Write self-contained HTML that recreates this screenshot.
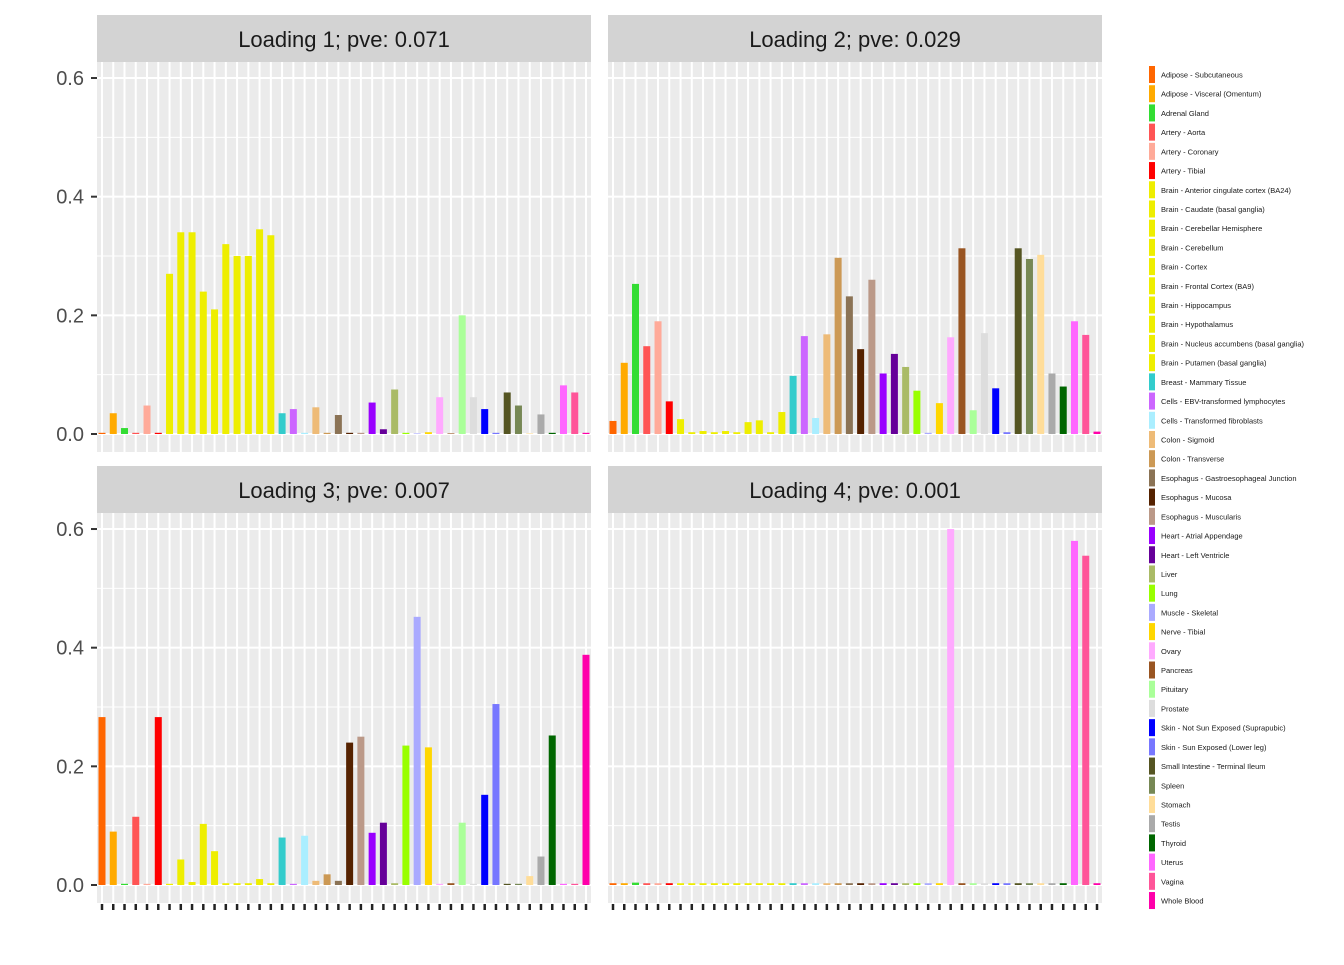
<!DOCTYPE html>
<html><head><meta charset="utf-8"><style>
body{margin:0;background:#fff;width:1344px;height:960px;overflow:hidden;font-family:"Liberation Sans",Arial,sans-serif}
</style></head><body>
<svg id="chart" width="1344" height="960" xmlns="http://www.w3.org/2000/svg" font-family="Liberation Sans, Arial, sans-serif"></svg>
<script>
const tissues=["Adipose - Subcutaneous","Adipose - Visceral (Omentum)","Adrenal Gland","Artery - Aorta","Artery - Coronary","Artery - Tibial","Brain - Anterior cingulate cortex (BA24)","Brain - Caudate (basal ganglia)","Brain - Cerebellar Hemisphere","Brain - Cerebellum","Brain - Cortex","Brain - Frontal Cortex (BA9)","Brain - Hippocampus","Brain - Hypothalamus","Brain - Nucleus accumbens (basal ganglia)","Brain - Putamen (basal ganglia)","Breast - Mammary Tissue","Cells - EBV-transformed lymphocytes","Cells - Transformed fibroblasts","Colon - Sigmoid","Colon - Transverse","Esophagus - Gastroesophageal Junction","Esophagus - Mucosa","Esophagus - Muscularis","Heart - Atrial Appendage","Heart - Left Ventricle","Liver","Lung","Muscle - Skeletal","Nerve - Tibial","Ovary","Pancreas","Pituitary","Prostate","Skin - Not Sun Exposed (Suprapubic)","Skin - Sun Exposed (Lower leg)","Small Intestine - Terminal Ileum","Spleen","Stomach","Testis","Thyroid","Uterus","Vagina","Whole Blood"];
const colors=["#FF6600","#FFAA00","#33DD33","#FF5555","#FFAA99","#FF0000","#EEEE00","#EEEE00","#EEEE00","#EEEE00","#EEEE00","#EEEE00","#EEEE00","#EEEE00","#EEEE00","#EEEE00","#33CCCC","#CC66FF","#AAEEFF","#EEBB77","#CC9955","#8B7355","#552200","#BB9988","#9900FF","#660099","#AABB66","#99FF00","#AAAAFF","#FFD700","#FFAAFF","#995522","#AAFF99","#DDDDDD","#0000FF","#7777FF","#555522","#778855","#FFDD99","#AAAAAA","#006600","#FF66FF","#FF5599","#FF00AA"];
const loading1=[0.002,0.035,0.01,0.002,0.048,0.002,0.27,0.34,0.34,0.24,0.21,0.32,0.30,0.30,0.345,0.335,0.035,0.042,0.002,0.045,0.002,0.032,0.002,0.002,0.053,0.008,0.075,0.002,0.001,0.003,0.062,0.001,0.2,0.062,0.042,0.002,0.07,0.048,0.001,0.033,0.002,0.082,0.07,0.002];
const loading2=[0.022,0.12,0.253,0.148,0.19,0.055,0.025,0.003,0.005,0.003,0.005,0.003,0.02,0.023,0.003,0.037,0.098,0.165,0.027,0.168,0.297,0.232,0.143,0.26,0.102,0.135,0.113,0.073,0.002,0.052,0.163,0.313,0.04,0.17,0.077,0.003,0.313,0.295,0.302,0.102,0.08,0.19,0.167,0.004];
const loading3=[0.283,0.09,0.002,0.115,0.002,0.283,0.002,0.043,0.005,0.103,0.057,0.003,0.003,0.003,0.01,0.003,0.08,0.002,0.083,0.007,0.018,0.007,0.24,0.25,0.088,0.105,0.003,0.235,0.452,0.232,0.002,0.003,0.105,0.002,0.152,0.305,0.002,0.002,0.015,0.048,0.252,0.002,0.002,0.388];
const loading4=[0.003,0.003,0.004,0.003,0.003,0.003,0.003,0.003,0.003,0.003,0.003,0.003,0.003,0.003,0.003,0.003,0.003,0.003,0.003,0.003,0.003,0.003,0.003,0.003,0.003,0.003,0.003,0.003,0.003,0.003,0.6,0.003,0.003,0.003,0.003,0.003,0.003,0.003,0.003,0.003,0.003,0.58,0.555,0.003];
const titles=["Loading 1; pve: 0.071","Loading 2; pve: 0.029","Loading 3; pve: 0.007","Loading 4; pve: 0.001"];
const yTicks=[0,0.2,0.4,0.6];
const yTickLabels=["0.0","0.2","0.4","0.6"];
const series=[loading1,loading2,loading3,loading4];

const svg=document.getElementById('chart');
const NS="http://www.w3.org/2000/svg";
function mk(tag,attrs,parent){const e=document.createElementNS(NS,tag);for(const k in attrs)e.setAttribute(k,attrs[k]);(parent||svg).appendChild(e);return e;}
const panels=[{x:97,y:15},{x:608,y:15},{x:97,y:466},{x:608,y:466}];
const PW=494,SH=47,PH=390;
series.forEach((vals,p)=>{
  const P=panels[p];
  const g=mk('g',{});
  
  
  const top=P.y+SH, bottom=top+PH;
  const y0=P.y+419; // zero line
  const yScale=v=>y0-v*593.3;
  const xScale=i=>P.x+5+i*(PW-10)/(tissues.length-1);
  const strip=mk('rect',{x:P.x,y:P.y,width:PW,height:SH,fill:'#D3D3D3'},g);
  
  
  const t=mk('text',{x:P.x+PW/2,y:P.y+32,'text-anchor':'middle','font-size':'22',fill:'#1a1a1a'},g);
  t.textContent=titles[p];
  
  
  mk('rect',{x:P.x,y:top,width:PW,height:PH,fill:'#EBEBEB'},g);
  [0.1,0.3,0.5].forEach(v=>mk('line',{x1:P.x,x2:P.x+PW,y1:yScale(v),y2:yScale(v),stroke:'#fff','stroke-width':1},g));
  yTicks.forEach(v=>mk('line',{x1:P.x,x2:P.x+PW,y1:yScale(v),y2:yScale(v),stroke:'#fff','stroke-width':2},g));
  tissues.forEach((n,i)=>mk('line',{x1:xScale(i),x2:xScale(i),y1:top,y2:bottom,stroke:'#fff','stroke-width':2},g));
  vals.forEach((v,i)=>{
    const b=mk('rect',{x:xScale(i)-3.5,y:yScale(v),width:7,height:Math.max(0,y0-yScale(v)),fill:colors[i]},g);
    
    
  });
  if(p%2===0){
    yTicks.forEach((v,k)=>{
      mk('line',{x1:P.x-6,x2:P.x,y1:yScale(v),y2:yScale(v),stroke:'#333','stroke-width':2},g);
      const l=mk('text',{x:P.x-13,y:yScale(v)+7,'text-anchor':'end','font-size':'20',fill:'#4d4d4d'},g);
      l.textContent=yTickLabels[k];
      
      
    });
  }
  if(p>=2){
    tissues.forEach((n,i)=>mk('line',{x1:xScale(i),x2:xScale(i),y1:bottom+1,y2:bottom+7,stroke:'#222','stroke-width':2.5},g));
  }
});
const lg=mk('g',{});


tissues.forEach((n,i)=>{
  const y=66+i*19.21;
  const e=mk('g',{},lg);
  
  
  mk('rect',{x:1149,y:y,width:6,height:17,fill:colors[i]},e);
  const t=mk('text',{x:1161,y:y+11.5,'font-size':'7.5',fill:'#1a1a1a'},e);
  t.textContent=n;
});
</script>
</body></html>
